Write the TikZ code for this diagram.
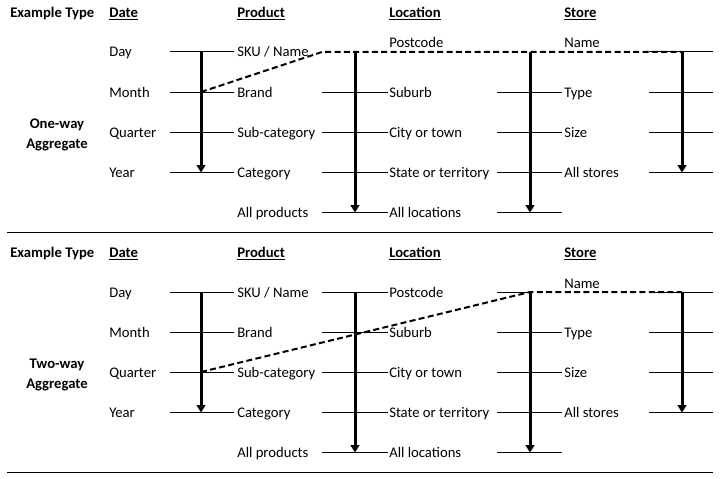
\documentclass[tikz,border=0pt]{standalone}
\usepackage{fontspec}
\setmainfont{Carlito}
\usetikzlibrary{arrows.meta}
\tikzset{
  lbl/.style={anchor=base west, inner sep=0pt, font=\fontsize{11}{13}\selectfont},
  hdr/.style={anchor=base west, inner sep=0pt, font=\fontsize{11}{13}\selectfont\bfseries},
  side/.style={anchor=base, inner sep=0pt, font=\fontsize{11}{13}\selectfont\bfseries},
  tick/.style={line width=0.75pt},
  flow/.style={line width=2.25pt, -{Triangle[length=5.5pt,width=6.5pt]}},
  agg/.style={line width=1.5pt, dash pattern=on 4.5pt off 2.5pt},
}
\newcommand{\aggpanel}[5]{% #1 prefix, #2 yshift, #3 side line 1, #4 side line 2, #5 postcode baseline
\begin{scope}[yshift=#2]
  \node[hdr] (#1-h0) at (10,17.5) {Example Type};
  \node[hdr] (#1-h1) at (109,17.5) {\underline{Date}};
  \node[hdr] (#1-h2) at (237,17.5) {\underline{Product}};
  \node[hdr] (#1-h3) at (389,17.5) {\underline{Location}};
  \node[hdr] (#1-h4) at (564,17.5) {\underline{Store}};
  \node[side] (#1-sidea) at (57,128) {#3};
  \node[side] (#1-sideb) at (57,148) {#4};
  \foreach \t [count=\i] in {Day,Month,Quarter,Year}
    \node[lbl] (#1-d\i) at (109,{17+40*\i}) {\t};
  \foreach \t [count=\i] in {SKU / Name,Brand,Sub-category,Category,All products}
    \node[lbl] (#1-p\i) at (237,{17+40*\i}) {\t};
  \node[lbl] (#1-l1) at (389,#5) {Postcode};
  \foreach \t [count=\i from 2] in {Suburb,City or town,State or territory,All locations}
    \node[lbl] (#1-l\i) at (389,{17+40*\i}) {\t};
  \node[lbl] (#1-s1) at (564,48) {Name};
  \foreach \t [count=\i from 2] in {Type,Size,All stores}
    \node[lbl] (#1-s\i) at (564,{17+40*\i}) {\t};
  % grid lines
  \foreach \i in {1,...,4} {
    \coordinate (#1-a\i-l) at (170,{12+40*\i});
    \coordinate (#1-a\i-r) at (234,{12+40*\i});
    \draw[tick] (#1-a\i-l) -- (#1-a\i-r);
    \coordinate (#1-e\i-l) at (649,{12+40*\i});
    \coordinate (#1-e\i-r) at (713,{12+40*\i});
    \draw[tick] (#1-e\i-l) -- (#1-e\i-r);
  }
  \foreach \i in {1,...,5} {
    \coordinate (#1-b\i-l) at (322,{12+40*\i});
    \coordinate (#1-b\i-r) at (388,{12+40*\i});
    \coordinate (#1-c\i-l) at (497,{12+40*\i});
    \coordinate (#1-c\i-r) at (562,{12+40*\i});
  }
  \foreach \i in {2,...,5} {
    \draw[tick] (#1-b\i-l) -- (#1-b\i-r);
    \draw[tick] (#1-c\i-l) -- (#1-c\i-r);
  }
  % hierarchy arrows
  \coordinate (#1-dt) at (201,52);  \coordinate (#1-db) at (201,172.5);
  \coordinate (#1-pt) at (355,52);  \coordinate (#1-pb) at (355,212.5);
  \coordinate (#1-lt) at (530,52);  \coordinate (#1-lb) at (530,212.5);
  \coordinate (#1-st) at (682,52);  \coordinate (#1-sb) at (682,172.5);
  \draw[flow] (#1-dt) -- (#1-db);
  \draw[flow] (#1-pt) -- (#1-pb);
  \draw[flow] (#1-lt) -- (#1-lb);
  \draw[flow] (#1-st) -- (#1-sb);
  \coordinate (#1-sepl) at (7,232);
  \coordinate (#1-sepr) at (713,232);
  \draw[tick] (#1-sepl) -- (#1-sepr);
\end{scope}}
\begin{document}
\begin{tikzpicture}[x=0.75pt,y=-0.75pt]
\useasboundingbox (0,0) rectangle (720,478);
\aggpanel{o}{0pt}{One-way}{Aggregate}{48}
\aggpanel{t}{-180pt}{Two-way}{Aggregate}{57}
% one-way aggregate path
\coordinate (o-k1) at (201,92);
\coordinate (o-k2) at (322,52);
\draw[agg] (o-k1) -- (o-k2) -- (o-st);
% two-way aggregate path
\draw[tick] (t-b1-l) -- (t-b1-r);
\draw[tick] (t-c1-l) -- (t-lt);
\coordinate (t-k1) at (201,372);
\draw[agg] (t-k1) -- (t-lt) -- (t-st);
\end{tikzpicture}
\end{document}
